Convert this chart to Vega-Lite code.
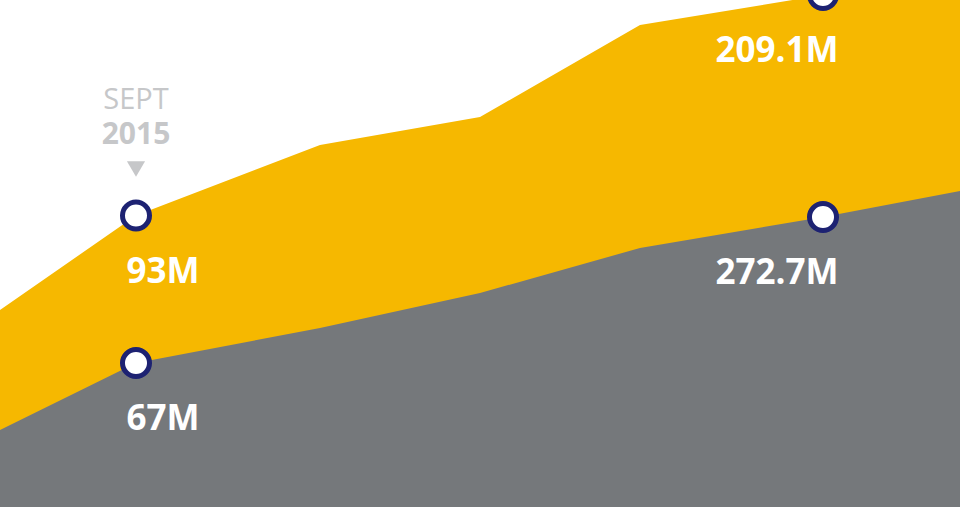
{
  "$schema": "https://vega.github.io/schema/vega-lite/v6.json",
  "width": 960,
  "height": 507,
  "autosize": {"type": "fit", "contains": "padding"},
  "padding": 0,
  "background": "#ffffff",
  "config": {"view": {"stroke": null}},
  "datasets": {
    "series": [
      {"x": 0, "gray": 77, "yellow": 197},
      {"x": 136, "gray": 144, "yellow": 291.5},
      {"x": 320, "gray": 179, "yellow": 362},
      {"x": 480, "gray": 214, "yellow": 390},
      {"x": 640, "gray": 259, "yellow": 482},
      {"x": 823, "gray": 290, "yellow": 512},
      {"x": 960, "gray": 316, "yellow": 545}
    ],
    "points": [
      {"x": 136, "y": 291.5, "label": "93M", "side": "left"},
      {"x": 136, "y": 144, "label": "67M", "side": "left"},
      {"x": 823, "y": 512, "label": "209.1M", "side": "right"},
      {"x": 823, "y": 290, "label": "272.7M", "side": "right"}
    ],
    "annot": [
      {"x": 136, "y": 398, "text": "SEPT", "kind": "month"},
      {"x": 136, "y": 363, "text": "2015", "kind": "year"},
      {"x": 136, "y": 338, "text": "", "kind": "marker"}
    ]
  },
  "layer": [
    {
      "data": {"name": "series"},
      "mark": {"type": "area", "color": "#F6B800", "clip": true},
      "encoding": {
        "x": {"field": "x", "type": "quantitative", "scale": {"domain": [0, 960], "nice": false, "zero": false}, "axis": null},
        "y": {"field": "yellow", "type": "quantitative", "scale": {"domain": [0, 507], "nice": false}, "axis": null}
      }
    },
    {
      "data": {"name": "series"},
      "mark": {"type": "area", "color": "#75787B", "clip": true},
      "encoding": {
        "x": {"field": "x", "type": "quantitative"},
        "y": {"field": "gray", "type": "quantitative"}
      }
    },
    {
      "data": {"name": "annot"},
      "transform": [{"filter": "datum.kind === 'month'"}],
      "mark": {"type": "text", "font": "Open Sans", "fontSize": 29, "fontWeight": "normal", "color": "#C6C7C9", "align": "center", "baseline": "alphabetic"},
      "encoding": {
        "x": {"field": "x", "type": "quantitative"},
        "y": {"field": "y", "type": "quantitative"},
        "text": {"field": "text"}
      }
    },
    {
      "data": {"name": "annot"},
      "transform": [{"filter": "datum.kind === 'year'"}],
      "mark": {"type": "text", "font": "Open Sans", "fontSize": 30, "fontWeight": "bold", "color": "#C6C7C9", "align": "center", "baseline": "alphabetic"},
      "encoding": {
        "x": {"field": "x", "type": "quantitative"},
        "y": {"field": "y", "type": "quantitative"},
        "text": {"field": "text"}
      }
    },
    {
      "data": {"name": "annot"},
      "transform": [{"filter": "datum.kind === 'marker'"}],
      "mark": {"type": "point", "shape": "triangle-down", "filled": true, "color": "#C6C7C9", "size": 330, "opacity": 1},
      "encoding": {
        "x": {"field": "x", "type": "quantitative"},
        "y": {"field": "y", "type": "quantitative"}
      }
    },
    {
      "data": {"name": "points"},
      "mark": {"type": "point", "filled": true, "fill": "#ffffff", "stroke": "#1D2272", "strokeWidth": 5, "size": 730, "opacity": 1, "clip": true},
      "encoding": {
        "x": {"field": "x", "type": "quantitative"},
        "y": {"field": "y", "type": "quantitative"}
      }
    },
    {
      "data": {"name": "points"},
      "transform": [{"filter": "datum.side === 'left'"}],
      "mark": {"type": "text", "font": "Open Sans", "fontSize": 35, "fontWeight": "bold", "color": "#ffffff", "align": "center", "baseline": "alphabetic", "dx": 27, "dy": 67},
      "encoding": {
        "x": {"field": "x", "type": "quantitative"},
        "y": {"field": "y", "type": "quantitative"},
        "text": {"field": "label"}
      }
    },
    {
      "data": {"name": "points"},
      "transform": [{"filter": "datum.side === 'right'"}],
      "mark": {"type": "text", "font": "Open Sans", "fontSize": 35, "fontWeight": "bold", "color": "#ffffff", "align": "center", "baseline": "alphabetic", "dx": -46, "dy": 67},
      "encoding": {
        "x": {"field": "x", "type": "quantitative"},
        "y": {"field": "y", "type": "quantitative"},
        "text": {"field": "label"}
      }
    }
  ]
}
